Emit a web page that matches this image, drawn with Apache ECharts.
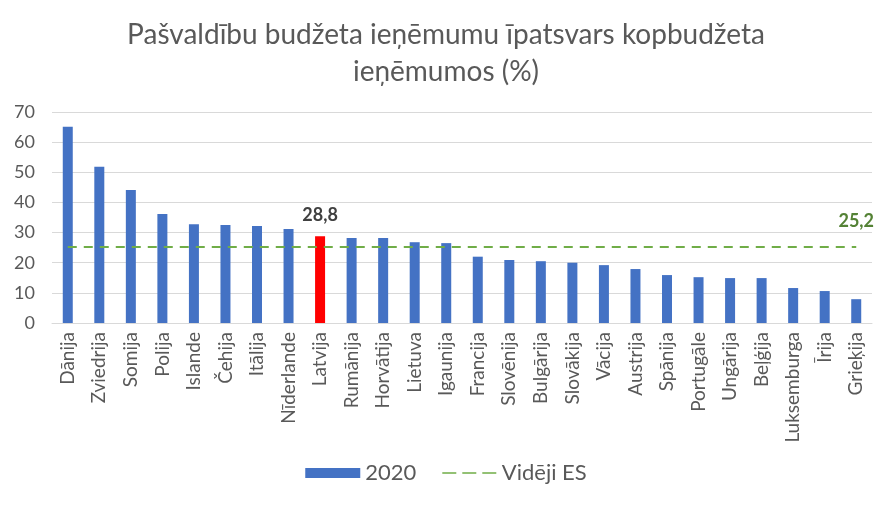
<!DOCTYPE html>
<html>
<head>
<meta charset="utf-8">
<script src="https://cdn.jsdelivr.net/npm/echarts@6/dist/echarts.min.js"></script>
<style>html,body{margin:0;padding:0;background:#fff}#c{width:892px;height:509px}</style>
</head>
<body>
<div id="c"></div>
<script>
const categories = ["Dānija","Zviedrija","Somija","Polija","Islande","Čehija","Itālija","Nīderlande","Latvija","Rumānija","Horvātija","Lietuva","Igaunija","Francija","Slovēnija","Bulgārija","Slovākija","Vācija","Austrija","Spānija","Portugāle","Ungārija","Beļģija","Luksemburga","Īrija","Grieķija"];
const values2020 = [65.1,51.8,44.1,36.2,32.8,32.5,32.2,31.2,28.8,28.2,28.2,26.8,26.5,22.0,20.9,20.5,20.0,19.2,17.9,15.9,15.2,14.9,14.9,11.6,10.6,7.9];
const avgEU = 25.2;
const yTicks = [0,10,20,30,40,50,60,70];
const highlight = "Latvija";

const FONT = "Lato";
const fmt = v => v.toFixed(1).replace('.', ',');
const avgData = categories.map(() => avgEU);
const barData = values2020.map((v, i) => categories[i] === highlight ? {
  value: v,
  itemStyle: {color: '#FF0000'},
  label: {show: true, position: 'top', distance: 12, formatter: () => fmt(v), color: '#404040', fontWeight: 'bold', fontSize: 18, fontFamily: FONT}
} : v);

const dashIcon = 'path://M0,0L0.01,0M0,10L0.01,10M0,4.2h14v1.6h-14zM20,4.2h14v1.6h-14zM40,4.2h14v1.6h-14z';

const chart = echarts.init(document.getElementById('c'));
chart.setOption({
  animation: false,
  textStyle: {fontFamily: FONT},
  title: {
    text: "Pašvaldību budžeta ieņēmumu īpatsvars kopbudžeta\nieņēmumos (%)",
    left: 'center', top: 11,
    textStyle: {fontFamily: FONT, fontSize: 28, fontWeight: 'normal', color: '#595959', lineHeight: 37}
  },
  legend: {
    bottom: 20, left: 'center',
    itemWidth: 55, itemHeight: 10, itemGap: 26,
    textStyle: {fontFamily: FONT, fontSize: 22, color: '#595959'},
    data: [{name: '2020', icon: 'rect'}, {name: 'Vidēji ES', icon: dashIcon}]
  },
  grid: {left: 52, right: 20, top: 112, bottom: 186},
  xAxis: {
    type: 'category', data: categories,
    axisTick: {show: false},
    axisLine: {lineStyle: {color: '#d9d9d9', width: 1}},
    axisLabel: {rotate: 90, color: '#595959', fontSize: 19, fontFamily: FONT, margin: 9, interval: 0}
  },
  yAxis: {
    type: 'value', min: yTicks[0], max: yTicks[yTicks.length - 1], interval: 10,
    axisLine: {show: false}, axisTick: {show: false},
    splitLine: {lineStyle: {color: '#d9d9d9', width: 1}},
    axisLabel: {color: '#595959', fontSize: 18, fontFamily: FONT, margin: 17}
  },
  series: [
    {name: '2020', type: 'bar', data: barData, barWidth: 10, itemStyle: {color: '#4472C4'}},
    {name: 'Vidēji ES', type: 'line', data: avgData, symbol: 'none', showSymbol: false,
     lineStyle: {color: '#70AD47', width: 2, type: [9, 7]}, itemStyle: {color: '#70AD47'}, z: 3,
     markPoint: {
       symbol: 'circle', symbolSize: 0,
       label: {show: true, position: 'top', distance: 17, formatter: () => fmt(avgEU), color: '#548235', fontWeight: 'bold', fontSize: 18, fontFamily: FONT},
       data: [{coord: [categories[categories.length - 1], avgEU]}]
     }}
  ]
});
</script>
</body>
</html>
